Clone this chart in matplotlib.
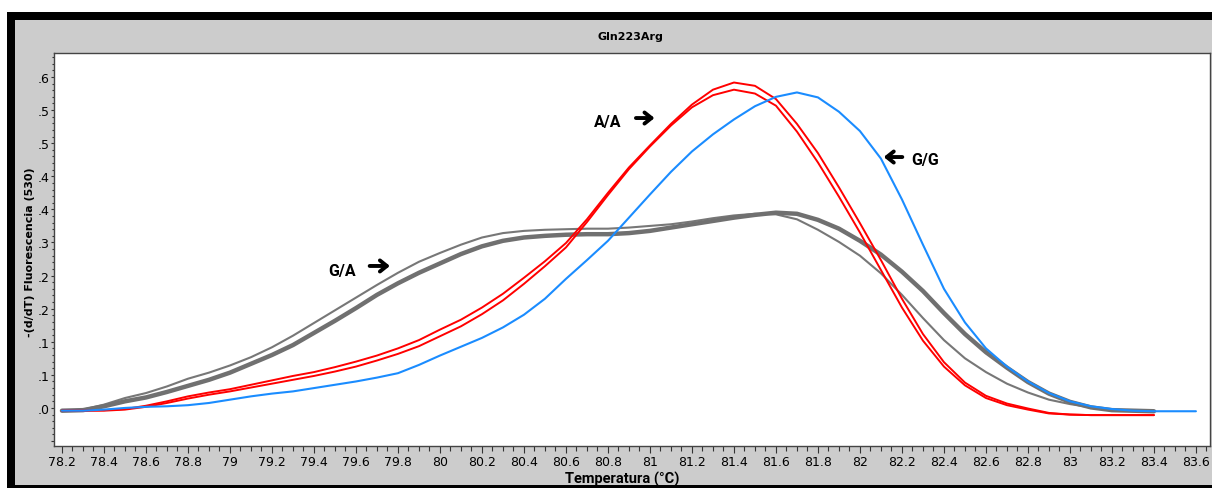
import matplotlib
matplotlib.use('Agg')
import matplotlib.pyplot as plt
from matplotlib.patches import Rectangle
from matplotlib.ticker import MultipleLocator, AutoMinorLocator, FuncFormatter

# temperatura (eje x)
temp = [78.2, 78.3, 78.4, 78.5, 78.6, 78.7, 78.8, 78.9,
        79.0, 79.1, 79.2, 79.3, 79.4, 79.5, 79.6, 79.7, 79.8, 79.9,
        80.0, 80.1, 80.2, 80.3, 80.4, 80.5, 80.6, 80.7, 80.8, 80.9,
        81.0, 81.1, 81.2, 81.3, 81.4, 81.5, 81.6, 81.7, 81.8, 81.9,
        82.0, 82.1, 82.2, 82.3, 82.4, 82.5, 82.6, 82.7, 82.8, 82.9,
        83.0, 83.1, 83.2, 83.3, 83.4, 83.5, 83.6]

# G/G (azul)
gg = [-0.005, -0.005, -0.003, 0.000, 0.002, 0.003, 0.005, 0.009,
      0.015, 0.021, 0.026, 0.030, 0.036, 0.042, 0.048, 0.055, 0.063, 0.078,
      0.095, 0.111, 0.127, 0.146, 0.169, 0.198, 0.234, 0.268, 0.303, 0.345,
      0.387, 0.428, 0.465, 0.496, 0.523, 0.547, 0.564, 0.572, 0.563, 0.537,
      0.502, 0.452, 0.378, 0.296, 0.216, 0.155, 0.108, 0.075, 0.048, 0.027,
      0.012, 0.003, -0.002, -0.005, -0.006, -0.006, -0.006]

# A/A (rojo, dos muestras)
aa_1 = [-0.005, -0.005, -0.004, -0.002, 0.004, 0.012, 0.021, 0.028,
        0.034, 0.042, 0.050, 0.058, 0.065, 0.074, 0.084, 0.095, 0.108, 0.123,
        0.142, 0.160, 0.182, 0.207, 0.236, 0.266, 0.299, 0.342, 0.390, 0.436,
        0.476, 0.515, 0.550, 0.577, 0.590, 0.584, 0.560, 0.515, 0.462, 0.400,
        0.335, 0.268, 0.198, 0.134, 0.083, 0.046, 0.022, 0.008, -0.001, -0.009,
        -0.012, -0.013, -0.013, -0.013, -0.013]
aa_2 = [-0.005, -0.005, -0.005, -0.003, 0.002, 0.009, 0.017, 0.024,
        0.030, 0.037, 0.044, 0.051, 0.058, 0.066, 0.075, 0.086, 0.098, 0.112,
        0.130, 0.148, 0.170, 0.195, 0.225, 0.257, 0.291, 0.337, 0.386, 0.433,
        0.474, 0.512, 0.545, 0.567, 0.577, 0.570, 0.548, 0.501, 0.445, 0.383,
        0.318, 0.250, 0.182, 0.122, 0.075, 0.041, 0.018, 0.005, -0.003, -0.010,
        -0.012, -0.013, -0.013, -0.013, -0.013]

# G/A (gris)
ga_1 = [-0.005, -0.003, 0.006, 0.018, 0.027, 0.039, 0.053, 0.064,
        0.077, 0.092, 0.110, 0.131, 0.154, 0.177, 0.200, 0.223, 0.245, 0.265,
        0.281, 0.296, 0.309, 0.317, 0.321, 0.323, 0.324, 0.325, 0.325, 0.327,
        0.330, 0.333, 0.338, 0.344, 0.349, 0.352, 0.351, 0.342, 0.323, 0.301,
        0.276, 0.244, 0.205, 0.163, 0.123, 0.090, 0.065, 0.044, 0.028, 0.015,
        0.007, 0.001, -0.003, -0.005, -0.006]
ga_2 = [-0.005, -0.004, 0.003, 0.012, 0.019, 0.029, 0.040, 0.051,
        0.064, 0.080, 0.096, 0.114, 0.136, 0.158, 0.181, 0.205, 0.226, 0.245,
        0.262, 0.279, 0.293, 0.303, 0.309, 0.312, 0.314, 0.315, 0.315, 0.317,
        0.321, 0.327, 0.333, 0.339, 0.345, 0.350, 0.354, 0.352, 0.341, 0.325,
        0.303, 0.278, 0.247, 0.212, 0.172, 0.134, 0.101, 0.073, 0.047, 0.026,
        0.011, 0.001, -0.004, -0.005, -0.006]

W, H = 1212, 489
fig = plt.figure(figsize=(W / 100, H / 100), dpi=100)
fig.patches.append(Rectangle((7 / W, 0), 1, 1 - 13 / H, transform=fig.transFigure,
                             facecolor='black', edgecolor='none', zorder=-2))
fig.patches.append(Rectangle((15 / W, 3 / H), 1, 1 - 24 / H, transform=fig.transFigure,
                             facecolor='#cccccc', edgecolor='none', zorder=-1))

ax = fig.add_axes([54 / W, 1 - 447 / H, (1210 - 54) / W, (447 - 54) / H])
ax.set_zorder(2)
ax.set_facecolor('white')

n = len(ga_1)
line_kw = dict(solid_joinstyle='round', solid_capstyle='round')
ax.plot(temp[:n], ga_1, color='#777777', lw=1.5, **line_kw)
ax.plot(temp[:n], ga_2, color='#707070', lw=3.2, **line_kw)
ax.plot(temp[:n], aa_1, color='#ff0000', lw=1.4, **line_kw)
ax.plot(temp[:n], aa_2, color='#ff0000', lw=1.4, **line_kw)
ax.plot(temp, gg, color='#1a8cff', lw=1.5, **line_kw)

ax.set_xlim(78.162, 83.667)
ax.set_ylim(-0.069, 0.6435)


def ylab(v, p):
    if v < -0.001:
        return ''
    return f'{abs(v):.1f}'.replace('0.', '.')


ax.xaxis.set_major_locator(MultipleLocator(0.2))
ax.xaxis.set_minor_locator(AutoMinorLocator(4))
ax.yaxis.set_major_locator(MultipleLocator(0.06))
ax.yaxis.set_minor_locator(AutoMinorLocator(5))
ax.xaxis.set_major_formatter(FuncFormatter(lambda v, p: f'{round(v, 1):g}'))
ax.yaxis.set_major_formatter(FuncFormatter(ylab))

tick_font = ['Liberation Sans Narrow', 'DejaVu Sans Condensed', 'DejaVu Sans']
for lab in ax.get_xticklabels() + ax.get_yticklabels():
    lab.set_fontfamily(tick_font)
ax.tick_params(axis='x', which='major', length=5, width=0.8, pad=1.5, labelsize=9, color='#333333')
ax.tick_params(axis='x', which='minor', length=3.5, width=0.8, color='#333333')
ax.tick_params(axis='y', which='major', length=2.5, width=0.8, pad=0.5, labelsize=9, color='#333333')
ax.tick_params(axis='y', which='minor', length=1.5, width=0.8, color='#333333')
for s in ax.spines.values():
    s.set_color('#444444')
    s.set_linewidth(1)

# etiquetas de genotipo
bold_font = ['Roboto', 'DejaVu Sans']
arrow = dict(arrowstyle='->,head_length=0.5,head_width=0.4', lw=2.8, color='black')
lab_font = dict(fontsize=11.5, fontweight='bold', family=bold_font, ha='center', va='center')
ax.text(80.80, 0.520, 'A/A', **lab_font)
ax.annotate('', xy=(81.035, 0.5256), xytext=(80.92, 0.5256), arrowprops=arrow)
ax.text(79.533, 0.2483, 'G/A', **lab_font)
ax.annotate('', xy=(79.775, 0.2574), xytext=(79.652, 0.2574), arrowprops=arrow)
ax.text(82.31, 0.4513, 'G/G', **lab_font)
ax.annotate('', xy=(82.10, 0.4549), xytext=(82.215, 0.4549), arrowprops=arrow)

fig.text(630 / W, 1 - 37 / H, 'Gln223Arg', ha='center', va='center', fontsize=8, fontweight='bold')
fig.text(30 / W, 1 - 252 / H, '-(d/dT) Fluorescencia (530)', rotation=90, ha='center', va='center',
         fontsize=8, fontweight='bold')
fig.text(622 / W, 1 - 479 / H, 'Temperatura (°C)', ha='center', va='center', fontsize=10.5,
         fontweight='bold', family=bold_font)

fig.savefig('out.png', dpi=100, facecolor='white')
